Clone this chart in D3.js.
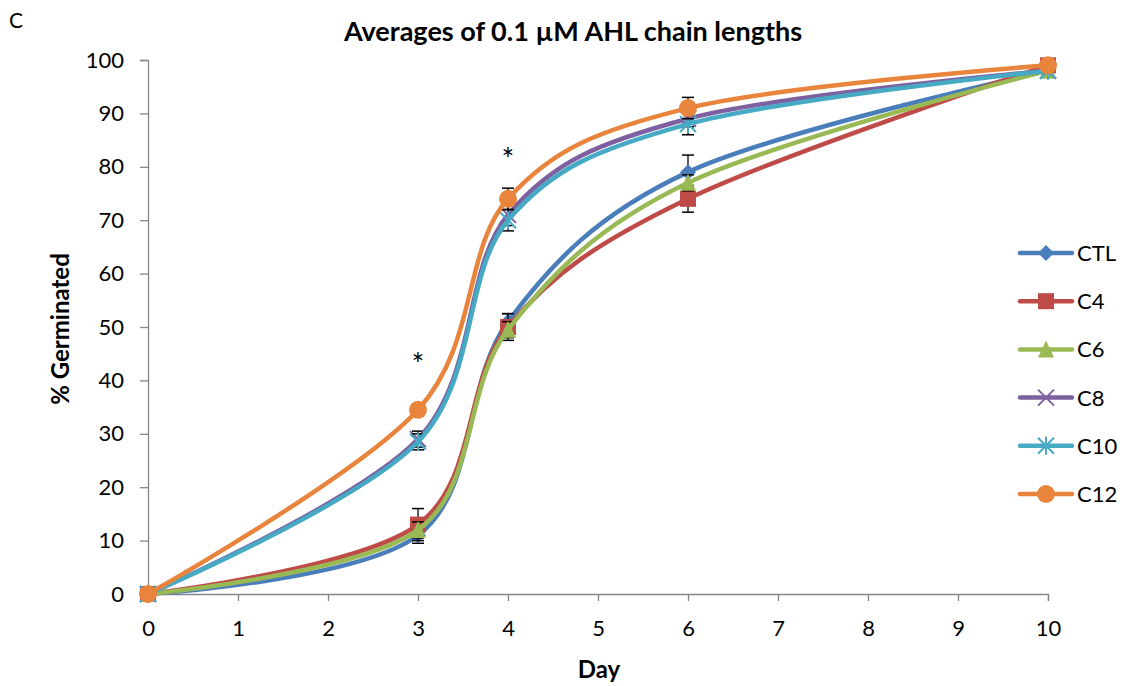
<!DOCTYPE html>
<html>
<head>
<meta charset="utf-8">
<script src="https://cdn.jsdelivr.net/npm/d3@7"></script>
<style>
  body { margin: 0; background: #fff; }
  text { font-family: Lato, "Open Sans", "Liberation Sans", sans-serif; }
</style>
</head>
<body>
<div id="visualization"></div>
<script>
// Data
const days = [0, 3, 4, 6, 10];
const seriesNames = ['CTL', 'C4', 'C6', 'C8', 'C10', 'C12'];
const ctl = [0, 11, 51, 79, 98];
const c4 = [0, 13, 50, 74, 99];
const c6 = [0, 12, 49.5, 77, 98];
const c8 = [0, 29, 71, 89, 98];
const c10 = [0, 28.5, 70, 88, 98];
const c12 = [0, 34.5, 74, 91, 99];
const ctlErr = [0, 1.5, 1.5, 3.2, 0];
const c4Err = [0, 3, 2.5, 2.5, 0];
const c6Err = [0, 1.5, 1.5, 1.5, 0];
const c8Err = [0, 1.5, 2, 1.5, 0];
const c10Err = [0, 1.5, 2, 2, 0];
const c12Err = [0, 1, 2, 2, 0];
const xTicks = [0, 1, 2, 3, 4, 5, 6, 7, 8, 9, 10];
const yTicks = [0, 10, 20, 30, 40, 50, 60, 70, 80, 90, 100];
const starDays = [3, 4];
const starValues = [44.2, 82.6];

const colors = ['#4A7EBB', '#BE4B48', '#98B954', '#7D60A0', '#46AAC5', '#E8843C'];
const values = [ctl, c4, c6, c8, c10, c12];
const errs = [ctlErr, c4Err, c6Err, c8Err, c10Err, c12Err];
const symbols = ['diamond', 'square', 'triangle', 'x', 'star', 'circle'];

const width = 1126;
const height = 686;
const margin = { top: 60, right: 78, bottom: 92, left: 148 };

const svg = d3.select('#visualization')
    .append('svg')
    .attr('width', width)
    .attr('height', height);

const x = d3.scaleLinear().domain([0, 10]).range([margin.left, width - margin.right]);
const y = d3.scaleLinear().domain([0, 100]).range([height - margin.bottom, margin.top]);

// Axes
const xAxis = svg.append('g')
    .attr('transform', `translate(0,${y(0)})`)
    .call(d3.axisBottom(x).tickValues(xTicks).tickSize(7).tickPadding(19));
const yAxis = svg.append('g')
    .attr('transform', `translate(${x(0)},0)`)
    .call(d3.axisLeft(y).tickValues(yTicks).tickSize(8).tickPadding(16));
[xAxis, yAxis].forEach(g => {
    g.selectAll('path, line').attr('stroke', '#868686').attr('stroke-width', 1.3);
    g.selectAll('text').attr('font-size', 22).attr('fill', '#000')
        .style('font-family', 'Lato, "Open Sans", sans-serif');
});

// Title and labels
svg.append('text').attr('x', 9).attr('y', 28).attr('font-size', 21).text('C');
svg.append('text').attr('x', 573).attr('y', 41).attr('text-anchor', 'middle')
    .attr('font-size', 27).attr('font-weight', 'bold').text('Averages of 0.1 µM AHL chain lengths');
svg.append('text').attr('x', 599).attr('y', 678).attr('text-anchor', 'middle')
    .attr('font-size', 24).attr('font-weight', 'bold').text('Day');
svg.append('text').attr('transform', `translate(69,${329}) rotate(-90)`)
    .attr('text-anchor', 'middle').attr('font-size', 24).attr('font-weight', 'bold').text('% Germinated');

const line = d3.line()
    .x((d, i) => x(days[i]))
    .y(d => y(d))
    .curve(d3.curveCardinal.tension(0));

function drawMarker(g, type, cx, cy, color, s) {
    if (type === 'diamond') {
        g.append('path').attr('d', `M${cx},${cy - s}L${cx + s},${cy}L${cx},${cy + s}L${cx - s},${cy}Z`).attr('fill', color);
    } else if (type === 'square') {
        g.append('rect').attr('x', cx - s).attr('y', cy - s).attr('width', 2 * s).attr('height', 2 * s).attr('fill', color);
    } else if (type === 'triangle') {
        g.append('path').attr('d', `M${cx},${cy - s - 1}L${cx + s},${cy + s}L${cx - s},${cy + s}Z`).attr('fill', color);
    } else if (type === 'x') {
        g.append('path').attr('d', `M${cx - s},${cy - s}L${cx + s},${cy + s}M${cx - s},${cy + s}L${cx + s},${cy - s}`)
            .attr('stroke', color).attr('stroke-width', 2);
    } else if (type === 'star') {
        g.append('path').attr('d', `M${cx - s},${cy - s}L${cx + s},${cy + s}M${cx - s},${cy + s}L${cx + s},${cy - s}M${cx},${cy - s - 1}L${cx},${cy + s + 1}`)
            .attr('stroke', color).attr('stroke-width', 2);
    } else {
        g.append('circle').attr('cx', cx).attr('cy', cy).attr('r', s + 1).attr('fill', color);
    }
}

values.forEach((vals, k) => {
    const g = svg.append('g');
    // error bars
    vals.forEach((v, i) => {
        const e = errs[k][i];
        if (!e) return;
        const cx = x(days[i]);
        g.append('line').attr('x1', cx).attr('x2', cx).attr('y1', y(v - e)).attr('y2', y(v + e))
            .attr('stroke', '#000').attr('stroke-width', 1.3);
        [v - e, v + e].forEach(w => {
            g.append('line').attr('x1', cx - 6).attr('x2', cx + 6).attr('y1', y(w)).attr('y2', y(w))
                .attr('stroke', '#000').attr('stroke-width', 1.5);
        });
    });
    g.append('path').datum(vals).attr('d', line)
        .attr('fill', 'none').attr('stroke', colors[k]).attr('stroke-width', 4.5)
        .attr('stroke-linecap', 'round');
    vals.forEach((v, i) => drawMarker(g, symbols[k], x(days[i]), y(v), colors[k], 8));
});

// significance asterisks
starDays.forEach((d, i) => {
    svg.append('text').attr('x', x(d)).attr('y', y(starValues[i]) + 17)
        .attr('text-anchor', 'middle').attr('font-size', 30).text('*');
});

// Legend
const legend = svg.append('g');
seriesNames.forEach((name, k) => {
    const ly = 253 + k * 48.2;
    legend.append('line').attr('x1', 1020).attr('x2', 1072).attr('y1', ly).attr('y2', ly)
        .attr('stroke', colors[k]).attr('stroke-width', 4.5).attr('stroke-linecap', 'round');
    drawMarker(legend, symbols[k], 1046, ly, colors[k], 8);
    legend.append('text').attr('x', 1077).attr('y', ly + 8).attr('font-size', 22).text(name);
});
</script>
</body>
</html>
